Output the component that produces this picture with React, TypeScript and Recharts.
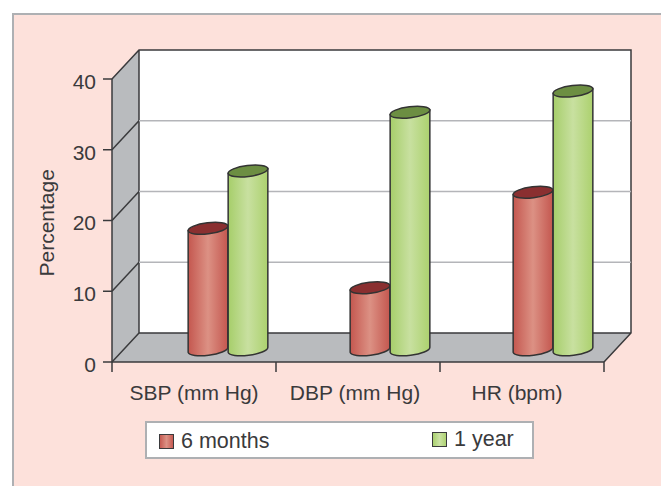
import { Bar, BarChart, CartesianGrid, Customized, Legend, XAxis, YAxis } from "recharts";

const categories = ["SBP (mm Hg)", "DBP (mm Hg)", "HR (bpm)"];
const sixMonths = [17.2, 8.8, 22.3];
const oneYear = [25.3, 33.6, 36.6];
const yTicks = [0, 10, 20, 30, 40];

const data = categories.map((name, i) => ({ name, sixMonths: sixMonths[i], oneYear: oneYear[i] }));

const FONT = "'Liberation Sans', Arial, sans-serif";
const INK = "#3a3a3c";
const WALL = "#b9bbbe";

// plot box of the front axes and the fake 3d depth
const LEFT = 112;
const RIGHT = 604;
const TOP = 79;
const BOTTOM = 362;
const DEPTH_X = 27;
const DEPTH_Y = 29;
const HALF_BAND = (RIGHT - LEFT) / 6;

// cylinders sit part way into the depth of the box
const BAR_SHIFT = [34, 32, 31];
const BAR_RISE = 12;
const LABEL_SHIFT = [0, -3, -5];

function Walls() {
  const bx = LEFT + DEPTH_X;
  const rx = RIGHT + DEPTH_X;
  const ty = TOP - DEPTH_Y;
  const by = BOTTOM - DEPTH_Y;
  return (
    <g>
      <rect x={bx} y={ty} width={rx - bx} height={by - ty} fill="#fff" />
      <polygon points={`${LEFT},${TOP} ${bx},${ty} ${bx},${by} ${LEFT},${BOTTOM}`} fill={WALL} />
      <polygon points={`${LEFT},${BOTTOM} ${bx},${by} ${rx},${by} ${RIGHT},${BOTTOM}`} fill={WALL} />
    </g>
  );
}

function WallEdges() {
  const bx = LEFT + DEPTH_X;
  const rx = RIGHT + DEPTH_X;
  const ty = TOP - DEPTH_Y;
  const by = BOTTOM - DEPTH_Y;
  return (
    <path
      d={`M${LEFT},${TOP} L${bx},${ty} L${rx},${ty} L${rx},${by} L${RIGHT},${BOTTOM} M${bx},${ty} L${bx},${by} M${bx},${by} L${rx},${by} M${LEFT},${BOTTOM} L${bx},${by}`}
      fill="none"
      stroke={INK}
      strokeWidth={1.5}
    />
  );
}

function GridLine(props: any) {
  const { y1 } = props;
  if (Math.abs(y1 - BOTTOM) < 1 || Math.abs(y1 - TOP) < 1) return <g />;
  return (
    <g>
      <line x1={LEFT} y1={y1} x2={LEFT + DEPTH_X} y2={y1 - DEPTH_Y} stroke={INK} strokeWidth={1.5} />
      <line x1={LEFT + DEPTH_X} y1={y1 - DEPTH_Y} x2={RIGHT + DEPTH_X} y2={y1 - DEPTH_Y} stroke="#b4b5b9" strokeWidth={1.5} />
    </g>
  );
}

function Cylinder(props: any) {
  const { x, y, width, height, index, gradient, cap } = props;
  const rx = width / 2;
  const ry = 5.5;
  const cx = x + BAR_SHIFT[index] + rx;
  const top = y - BAR_RISE;
  const bottom = top + height;
  const tiltX = rx * 0.992;
  const tiltY = rx * 0.122;
  return (
    <g stroke="#333" strokeWidth={1.5}>
      <path
        d={`M${cx - tiltX},${top + tiltY} L${cx - tiltX},${bottom + tiltY} A${rx},${ry} -7 0 0 ${cx + tiltX},${bottom - tiltY} L${cx + tiltX},${top - tiltY} Z`}
        fill={`url(#${gradient})`}
      />
      <ellipse cx={cx} cy={top} rx={rx} ry={ry} transform={`rotate(-7 ${cx} ${top})`} fill={cap} />
    </g>
  );
}

function CategoryTick(props: any) {
  const { x, y, payload, index } = props;
  return (
    <g>
      <line x1={x - HALF_BAND} y1={BOTTOM} x2={x - HALF_BAND} y2={BOTTOM + 10} stroke={INK} strokeWidth={1.5} />
      {index === categories.length - 1 && (
        <line x1={x + HALF_BAND} y1={BOTTOM} x2={x + HALF_BAND} y2={BOTTOM + 10} stroke={INK} strokeWidth={1.5} />
      )}
      <text x={x + LABEL_SHIFT[index]} y={y + 30} textAnchor="middle" fontSize={21} fontFamily={FONT} fill={INK}>
        {payload.value}
      </text>
    </g>
  );
}

function LegendSwatch({ id }: { id: string }) {
  return <span style={{ width: 13, height: 13, border: `1.5px solid ${INK}`, background: id, display: "inline-block" }} />;
}

function ChartLegend() {
  return (
    <div
      style={{
        position: "relative",
        width: 385,
        height: 34,
        background: "#fff",
        border: "2px solid #aeb0b3",
        fontFamily: FONT,
        fontSize: 21.5,
        color: INK,
      }}
    >
      <div style={{ position: "absolute", left: 12, top: 6, display: "flex", alignItems: "center", gap: 7 }}>
        <LegendSwatch id="linear-gradient(90deg,#c65a52,#dc9184,#c65a52)" />
        <span>6 months</span>
      </div>
      <div style={{ position: "absolute", left: 285, top: 4, display: "flex", alignItems: "center", gap: 7 }}>
        <LegendSwatch id="linear-gradient(90deg,#a9d06e,#cbe2a4,#aed272)" />
        <span>1 year</span>
      </div>
    </div>
  );
}

export default function App() {
  return (
    <div style={{ position: "absolute", left: 0, top: 0, width: 661, height: 486, background: "#fff", overflow: "hidden" }}>
      <div
        style={{
          position: "absolute",
          left: 12,
          top: 13,
          width: 649,
          height: 473,
          boxSizing: "border-box",
          background: "#fde1db",
          borderLeft: "2px solid #aeb0b3",
          borderTop: "2px solid #aeb0b3",
        }}
      />
      <BarChart
        width={661}
        height={486}
        data={data}
        barSize={40}
        barGap={0}
        margin={{ top: TOP, right: 661 - RIGHT, bottom: 94, left: 62 }}
        style={{ position: "absolute", left: 0, top: 0 }}
      >
        <defs>
          <linearGradient id="redBody" x1="0" x2="1" y1="0" y2="0">
            <stop offset="0" stopColor="#c4574f" />
            <stop offset="0.5" stopColor="#dc9184" />
            <stop offset="1" stopColor="#c4574f" />
          </linearGradient>
          <linearGradient id="greenBody" x1="0" x2="1" y1="0" y2="0">
            <stop offset="0" stopColor="#a6ce6a" />
            <stop offset="0.5" stopColor="#c8e0a0" />
            <stop offset="1" stopColor="#acd16e" />
          </linearGradient>
        </defs>
        <Customized component={Walls} />
        <Customized component={WallEdges} />
        <CartesianGrid vertical={false} horizontal={GridLine as any} syncWithTicks zIndex={100} />
        <XAxis
          dataKey="name"
          height={30}
          interval={0}
          tickLine={false}
          axisLine={{ stroke: INK, strokeWidth: 1.5 }}
          tick={CategoryTick as any}
        />
        <YAxis
          domain={[0, 40]}
          ticks={yTicks}
          width={50}
          tickSize={9}
          tickMargin={7}
          axisLine={{ stroke: INK, strokeWidth: 1.5 }}
          tickLine={{ stroke: INK, strokeWidth: 1.5 }}
          tick={{ fontSize: 21, fontFamily: FONT, fill: INK, dy: 2.5 }}
          label={{ value: "Percentage", angle: -90, position: "insideLeft", offset: 0, dx: -15, dy: 56, fontSize: 21, fontFamily: FONT, fill: INK }}
        />
        <Bar dataKey="sixMonths" name="6 months" isAnimationActive={false} shape={(p: any) => <Cylinder {...p} gradient="redBody" cap="#8a2f30" />} />
        <Bar dataKey="oneYear" name="1 year" isAnimationActive={false} shape={(p: any) => <Cylinder {...p} gradient="greenBody" cap="#6c8e42" />} />
        <Legend
          verticalAlign="middle"
          align="center"
          layout="horizontal"
          content={<ChartLegend />}
          wrapperStyle={{ left: 145, top: 421, width: 389, height: 38, margin: 0 }}
        />
      </BarChart>
    </div>
  );
}
